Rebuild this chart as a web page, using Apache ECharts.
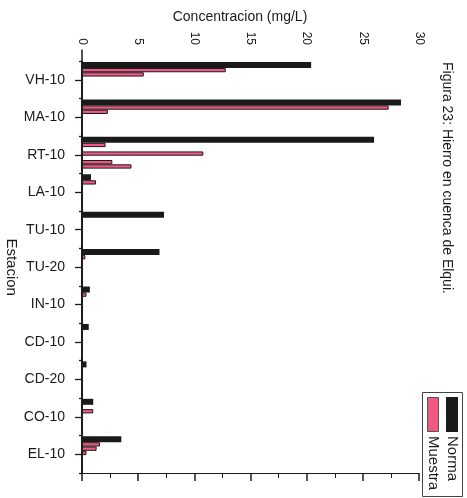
<!DOCTYPE html>
<html>
<head>
<meta charset="utf-8">
<script src="https://cdn.jsdelivr.net/npm/echarts@6/dist/echarts.min.js"></script>
<style>
  html, body { margin: 0; padding: 0; background: #ffffff; }
  #chart { width: 467px; height: 498px; }
</style>
</head>
<body>
<div id="chart"></div>
<script>
// Stations along the basin, top to bottom
const stations = ['VH-10', 'MA-10', 'RT-10', 'LA-10', 'TU-10', 'TU-20', 'IN-10', 'CD-10', 'CD-20', 'CO-10', 'EL-10'];

// Iron standard (mg/L) for each station
const norma = [20.4, 28.4, 26.0, 0.8, 7.3, 6.9, 0.7, 0.6, 0.4, 1.0, 3.5];

// Measured samples (mg/L); null where a station has no sample in that slot
const muestra1 = [12.8, 27.3, 2.1, 1.25, null, 0.3, 0.4, null, null, null, 1.6];
const muestra2 = [5.5, 2.3, null, null, null, null, null, null, null, 1.0, 1.3];
const muestra3 = [null, null, 10.8, null, null, null, null, null, null, null, 0.4];
const muestra4 = [null, null, null, null, null, null, null, null, null, null, null];
const muestra5 = [null, null, 2.7, null, null, null, null, null, null, null, null];
const muestra6 = [null, null, 4.4, null, null, null, null, null, null, null, null];
const muestra7 = [null, null, null, null, null, null, null, null, null, null, null];

// Value axis
const valueMin = 0;
const valueMax = 30;
const valueStep = 5;

const FONT = '"Liberation Sans", Arial, sans-serif';
const INK = '#1a1a1a';
const PINK = '#ee5a84';

const chart = echarts.init(document.getElementById('chart'), null, { renderer: 'canvas' });

const sampleSeries = [muestra1, muestra2, muestra3, muestra4, muestra5, muestra6, muestra7].map((values, i) => ({
  name: 'Muestra ' + (i + 1),
  type: 'bar',
  xAxisIndex: 1,
  yAxisIndex: 1,
  data: values,
  barWidth: 4.3,
  barGap: 0,
  itemStyle: { color: PINK, borderColor: INK, borderWidth: 1 },
  silent: true
}));

chart.setOption({
  animation: false,
  backgroundColor: '#ffffff',
  grid: [
    // frame: top value axis and the full-height left line
    { left: 82, right: 48, top: 50, bottom: 25, outerBoundsMode: 'none' },
    // station bands
    { left: 82, right: 48, top: 61.3, bottom: 25, outerBoundsMode: 'none' }
  ],
  xAxis: [
    {
      gridIndex: 0,
      type: 'value',
      position: 'top',
      min: valueMin,
      max: valueMax,
      interval: valueStep,
      name: 'Concentracion (mg/L)',
      nameLocation: 'middle',
      nameGap: 26,
      nameMoveOverlap: false,
      nameTextStyle: { fontFamily: FONT, fontSize: 14, color: INK, padding: [0, 21, 0, 0] },
      axisLine: { show: true, lineStyle: { color: INK, width: 1 } },
      axisTick: { show: true, inside: true, length: 8, lineStyle: { color: INK, width: 1.5 } },
      minorTick: { show: true, splitNumber: 2, length: 5, lineStyle: { color: INK, width: 1 } },
      splitLine: { show: false },
      axisLabel: { rotate: -90, margin: 5, fontFamily: FONT, fontSize: 12, color: INK }
    },
    {
      gridIndex: 1,
      type: 'value',
      position: 'top',
      min: valueMin,
      max: valueMax,
      axisLine: { show: false },
      axisTick: { show: false },
      axisLabel: { show: false },
      splitLine: { show: false }
    }
  ],
  yAxis: [
    {
      gridIndex: 0,
      type: 'value',
      position: 'left',
      min: 0,
      max: 1,
      axisLine: { show: true, lineStyle: { color: INK, width: 1.5 } },
      axisTick: { show: false },
      axisLabel: { show: false },
      splitLine: { show: false }
    },
    {
      // station names, ticks on band edges
      gridIndex: 1,
      type: 'category',
      position: 'left',
      data: stations,
      inverse: true,
      name: 'Estacion',
      nameLocation: 'middle',
      nameRotate: -90,
      nameGap: 63,
      nameMoveOverlap: false,
      nameTextStyle: { fontFamily: FONT, fontSize: 15, color: INK },
      axisLine: { show: true, onZero: false, lineStyle: { color: INK, width: 1.5 } },
      axisTick: { show: true, interval: 0, length: 3, lineStyle: { color: INK, width: 1.3 } },
      axisLabel: { margin: 17, fontFamily: FONT, fontSize: 14, color: INK },
      splitLine: { show: false }
    },
    {
      // longer ticks at each station name
      gridIndex: 1,
      type: 'category',
      position: 'left',
      data: stations,
      inverse: true,
      axisLine: { show: true, onZero: false, lineStyle: { color: INK, width: 1.5 } },
      axisTick: { show: true, interval: 0, alignWithLabel: true, length: 7, lineStyle: { color: INK, width: 1.3 } },
      axisLabel: { show: false },
      splitLine: { show: false }
    }
  ],
  series: [
    {
      name: 'Norma',
      type: 'bar',
      xAxisIndex: 1,
      yAxisIndex: 1,
      data: norma,
      barWidth: 6,
      barGap: 0,
      itemStyle: { color: INK },
      silent: true
    }
  ].concat(sampleSeries),
  graphic: [
    {
      type: 'text',
      x: 447,
      y: 62,
      rotation: -Math.PI / 2,
      style: {
        text: 'Figura 23: Hierro en cuenca de Elqui.',
        font: '14px ' + FONT,
        fill: INK,
        align: 'left',
        verticalAlign: 'middle'
      }
    },
    {
      type: 'group',
      children: [
        { type: 'rect', shape: { x: 422.5, y: 392.5, width: 40, height: 104 }, style: { fill: '#ffffff', stroke: '#444', lineWidth: 1 } },
        { type: 'rect', shape: { x: 446, y: 397, width: 12, height: 35 }, style: { fill: INK } },
        { type: 'rect', shape: { x: 427.5, y: 397.5, width: 11, height: 34 }, style: { fill: PINK, stroke: '#555', lineWidth: 1 } },
        {
          type: 'text', x: 452, y: 436, rotation: -Math.PI / 2,
          style: { text: 'Norma', font: '15px ' + FONT, fill: INK, align: 'left', verticalAlign: 'middle' }
        },
        {
          type: 'text', x: 433, y: 436, rotation: -Math.PI / 2,
          style: { text: 'Muestra', font: '15px ' + FONT, fill: INK, align: 'left', verticalAlign: 'middle' }
        }
      ]
    }
  ]
});
</script>
</body>
</html>
